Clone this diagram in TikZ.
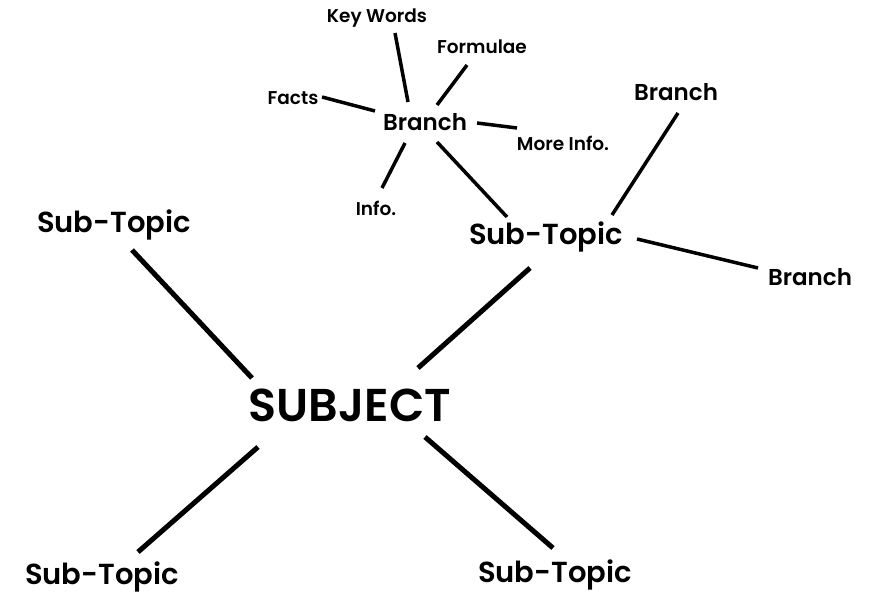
\documentclass[tikz,border=0pt]{standalone}
\usepackage{fontspec}
\setmainfont{Poppins}[BoldFont={Poppins SemiBold}]
\begin{document}
\begin{tikzpicture}[x=1pt,y=-1pt,
  lbl/.style={inner sep=0pt,font=\bfseries\fontsize{#1}{#1}\selectfont},
  thick line/.style={line width=5pt},
  thin line/.style={line width=3.5pt}]
\useasboundingbox[fill=white] (0,0) rectangle (874,593);
% nodes
\node[lbl=46] (subj) at (350,405) {SUBJECT};
\node[lbl=29] (stl) at (114,225) {Sub-Topic};
\node[lbl=29] (st) at (546,237) {Sub-Topic};
\node[lbl=29] (sbl) at (102,577) {Sub-Topic};
\node[lbl=29] (sbr) at (555,575) {Sub-Topic};
\node[lbl=23] (br) at (425,122) {Branch};
\node[lbl=23] (b1) at (676,92) {Branch};
\node[lbl=23] (b2) at (810,277) {Branch};
\node[lbl=18.5] (kw) at (377,18) {Key Words};
\node[lbl=18.5] (fo) at (482,47) {Formulae};
\node[lbl=18.5] (fa) at (293,98) {Facts};
\node[lbl=18.5] (mi) at (563,143) {More Info.};
\node[lbl=18.5] (in) at (376,208) {Info.};
% connectors
\draw[thin line] ([shift={(18,15)}]kw.center) -- ([shift={(-17,-20)}]br.center);
\draw[thin line] ([shift={(-15,18)}]fo.center) -- ([shift={(12,-17)}]br.center);
\draw[thin line] ([shift={(29,-1)}]fa.center) -- ([shift={(-50,-11)}]br.center);
\draw[thin line] ([shift={(52,1)}]br.center) -- ([shift={(-46,-15)}]mi.center);
\draw[thin line] ([shift={(-20,21)}]br.center) -- ([shift={(6,-20)}]in.center);
\draw[thin line] ([shift={(12,20)}]br.center) -- ([shift={(-39,-20)}]st.center);
\draw[thin line] ([shift={(2,21)}]b1.center) -- ([shift={(66,-22)}]st.center);
\draw[thin line] ([shift={(91,2)}]st.center) -- ([shift={(-52,-9)}]b2.center);
\draw[thick line] ([shift={(18,25)}]stl.center) -- ([shift={(-98,-27)}]subj.center);
\draw[thick line] ([shift={(-16,31)}]st.center) -- ([shift={(68,-37)}]subj.center);
\draw[thick line] ([shift={(-92,42)}]subj.center) -- ([shift={(36,-25)}]sbl.center);
\draw[thick line] ([shift={(75,32)}]subj.center) -- ([shift={(-2,-27)}]sbr.center);
\end{tikzpicture}
\end{document}
